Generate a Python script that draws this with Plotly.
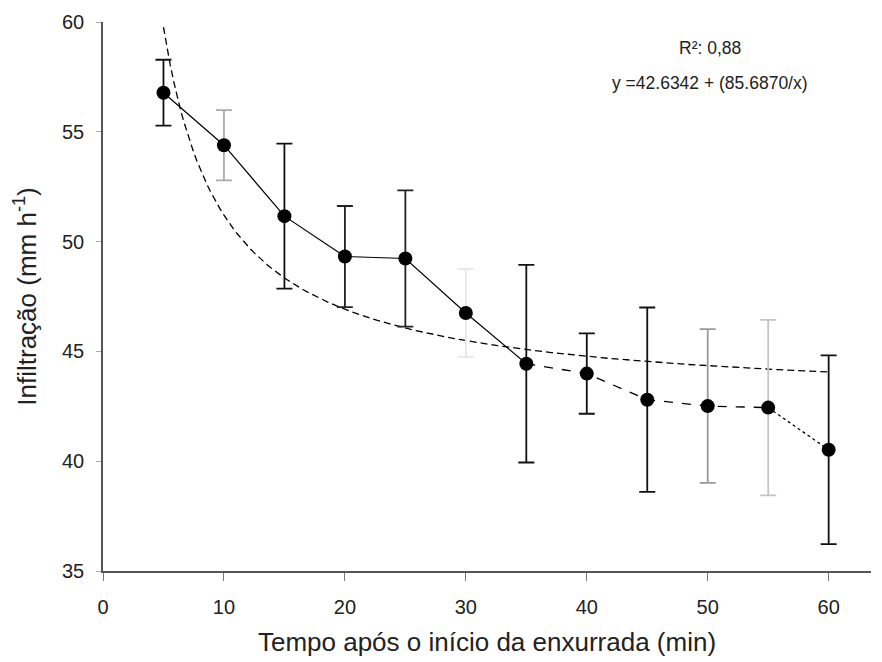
import numpy as np
import plotly.graph_objects as go

# Data
tempo = [5, 10, 15, 20, 25, 30, 35, 40, 45, 50, 55, 60]
infiltracao = [56.78, 54.39, 51.16, 49.32, 49.23, 46.75, 44.44, 43.99, 42.80, 42.51, 42.44, 40.52]
erro = [1.5, 1.6, 3.3, 2.3, 3.1, 2.0, 4.5, 1.83, 4.2, 3.5, 4.0, 4.3]
fit_a = 42.6342
fit_b = 85.6870
r2_text = "R²: 0,88"
eq_text = "y =42.6342 + (85.6870/x)"
x_ticks = [0, 10, 20, 30, 40, 50, 60]
y_ticks = [35, 40, 45, 50, 55, 60]

# error bar colours (style)
err_colors = ["#111", "#aaa", "#111", "#222", "#222", "#e6e6e6",
              "#111", "#111", "#111", "#999", "#c4c4c4", "#111"]

fig = go.Figure()

# fitted curve
xf = np.linspace(5, 60, 200)
yf = fit_a + fit_b / xf
fig.add_trace(go.Scatter(x=xf, y=yf, mode="lines",
                         line=dict(color="black", width=1.3, dash="7px,4px"),
                         hoverinfo="skip", showlegend=False))

# error bars per point
for xi, yi, ei, ci in zip(tempo, infiltracao, erro, err_colors):
    fig.add_trace(go.Scatter(x=[xi], y=[yi], mode="markers",
                             marker=dict(size=1, color="rgba(0,0,0,0)"),
                             error_y=dict(type="data", array=[ei], visible=True,
                                          color=ci, thickness=1.8, width=8),
                             showlegend=False, hoverinfo="skip"))

# connecting line segments
fig.add_trace(go.Scatter(x=tempo[:7], y=infiltracao[:7], mode="lines",
                         line=dict(color="black", width=1.2), showlegend=False))
fig.add_trace(go.Scatter(x=tempo[6:11], y=infiltracao[6:11], mode="lines",
                         line=dict(color="black", width=1.3, dash="dash"), showlegend=False))
fig.add_trace(go.Scatter(x=tempo[10:], y=infiltracao[10:], mode="lines",
                         line=dict(color="black", width=1.3, dash="dot"), showlegend=False))

# markers
fig.add_trace(go.Scatter(x=tempo, y=infiltracao, mode="markers",
                         marker=dict(size=14, color="black"), showlegend=False))

fig.add_annotation(x=50.2, y=58.8, xref="x", yref="y", text=r2_text,
                   showarrow=False, font=dict(size=17.5, color="#222"),
                   xanchor="center", yanchor="middle")
fig.add_annotation(x=50.2, y=57.2, xref="x", yref="y", text=eq_text,
                   showarrow=False, font=dict(size=17.5, color="#222"),
                   xanchor="center", yanchor="middle")

# the page body adds an 8px offset; size the figure to fit the window
fig.update_layout(
    width=874, height=654,
    margin=dict(l=95, r=11, t=14, b=91),
    plot_bgcolor="white", paper_bgcolor="white",
    font=dict(family="Liberation Sans, Arial, sans-serif", color="#222"),
    xaxis=dict(range=[0, 63.5], tickvals=x_ticks, automargin=False,
               showgrid=False, zeroline=False, showline=True, linecolor="#555",
               linewidth=1.5, ticks="outside", ticklen=8, tickcolor="#777",
               tickfont=dict(size=20), ticklabelstandoff=9,
               title=dict(text="Tempo após o início da enxurrada (min)",
                          font=dict(size=26), standoff=16)),
    yaxis=dict(range=[35, 60], tickvals=y_ticks, automargin=False,
               showgrid=False, zeroline=False, showline=True, linecolor="#555",
               linewidth=1.5, ticks="outside", ticklen=5, tickcolor="#aaa",
               tickfont=dict(size=20), ticklabelstandoff=8,
               title=dict(text="Infiltração (mm h<sup>-1</sup>)",
                          font=dict(size=26), standoff=18)),
)

fig.write_html("out.html")
